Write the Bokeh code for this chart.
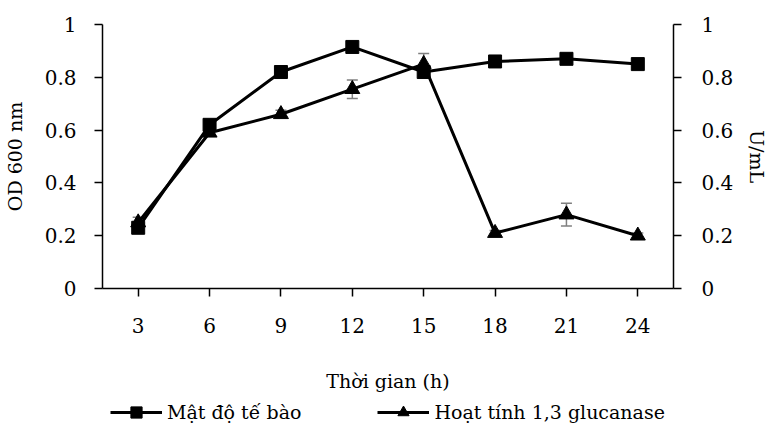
from bokeh.plotting import figure
from bokeh.layouts import column
from bokeh.models import (FixedTicker, LinearAxis, Range1d, Legend, LegendItem,
                          Whisker, ColumnDataSource, CustomJSTickFormatter, TeeHead)
from bokeh.embed import file_html
from bokeh.resources import INLINE

hours = [3, 6, 9, 12, 15, 18, 21, 24]
cell_density = [0.23, 0.62, 0.82, 0.915, 0.82, 0.86, 0.87, 0.85]
glucanase = [0.25, 0.59, 0.66, 0.755, 0.85, 0.21, 0.28, 0.20]
glucanase_err = [0.02, 0.01, 0.015, 0.035, 0.04, 0.01, 0.043, 0.01]
y_ticks = [0, 0.2, 0.4, 0.6, 0.8, 1.0]
series_names = ["Mật độ tế bào", "Hoạt tính 1,3 glucanase"]

FONT = "DejaVu Serif"
W = 771

p = figure(width=W, height=398, output_backend="svg", toolbar_location=None,
           x_range=Range1d(1.5, 25.5), y_range=Range1d(0, 1),
           min_border_left=95, min_border_right=97, min_border_top=24, min_border_bottom=110)
p.outline_line_color = None
p.xgrid.visible = False
p.ygrid.visible = False

fmt = CustomJSTickFormatter(code="return tick.toFixed(1).replace(/\\.0$/, '');")

ya = p.yaxis[0]
ya.ticker = FixedTicker(ticks=y_ticks)
ya.formatter = fmt
ya.axis_label = "OD 600 nm"

p.extra_y_ranges = {"u": Range1d(0, 1)}
ra = LinearAxis(y_range_name="u", ticker=FixedTicker(ticks=y_ticks), formatter=fmt,
                axis_label="U/mL")
p.add_layout(ra, "right")

xa = p.xaxis[0]
xa.ticker = FixedTicker(ticks=hours)
xa.axis_label = "Thời gian (h)"

for ax in [ya, ra, xa]:
    ax.major_label_text_font = FONT
    ax.major_label_text_font_size = "20px"
    ax.major_label_text_color = "black"
    ax.axis_label_text_font = FONT
    ax.axis_label_text_font_size = "19px"
    ax.axis_label_text_font_style = "normal"
    ax.axis_label_text_color = "black"
    ax.axis_line_color = "black"
    ax.axis_line_width = 1.5
    ax.major_tick_line_color = "black"
    ax.major_tick_line_width = 1.5
    ax.major_tick_in = 0
    ax.major_tick_out = 8
    ax.minor_tick_line_color = None
ya.major_label_standoff = 18
ya.axis_label_standoff = 16
ra.major_label_standoff = 20
ra.axis_label_standoff = 10
xa.major_label_standoff = 21
xa.axis_label_standoff = 34

src = ColumnDataSource(dict(x=hours, d=cell_density, g=glucanase,
                            lo=[g - e for g, e in zip(glucanase, glucanase_err)],
                            hi=[g + e for g, e in zip(glucanase, glucanase_err)]))

w = Whisker(base="x", lower="lo", upper="hi", source=src, line_color="#7f7f7f", line_width=1.5,
            upper_head=TeeHead(size=11, line_color="#7f7f7f", line_width=1.5),
            lower_head=TeeHead(size=11, line_color="#7f7f7f", line_width=1.5))
p.add_layout(w)

p.line("x", "d", source=src, line_color="black", line_width=3)
p.scatter("x", "d", source=src, marker="square", size=13, color="black")
p.line("x", "g", source=src, line_color="black", line_width=3)
p.scatter("x", "g", source=src, marker="triangle", size=15, color="black")

# legend strip below the chart (its renderers lie outside its visible ranges)
lg = figure(width=W, height=28, output_backend="svg", toolbar_location=None,
            x_range=Range1d(100, 101), y_range=Range1d(100, 101),
            x_axis_location=None, y_axis_location=None, min_border=0)
lg.outline_line_color = None
lg.xgrid.visible = False
lg.ygrid.visible = False
a1 = lg.line("x", "d", source=src, line_color="black", line_width=3)
b1 = lg.scatter("x", "d", source=src, marker="square", size=13, color="black")
a2 = lg.line("x", "g", source=src, line_color="black", line_width=3)
b2 = lg.scatter("x", "g", source=src, marker="triangle", size=15, color="black")
legend = Legend(items=[LegendItem(label=series_names[0], renderers=[a1, b1]),
                       LegendItem(label=series_names[1], renderers=[a2, b2])],
                orientation="horizontal", location=(8, 0),
                glyph_width=52, glyph_height=28, label_standoff=5, spacing=76,
                padding=0, margin=0, border_line_color=None, background_fill_alpha=0,
                label_text_font=FONT, label_text_font_size="19px", label_text_color="black")
lg.add_layout(legend, "center")

layout = column(p, lg, spacing=0)
open("out.html", "w").write(file_html(layout, INLINE))
